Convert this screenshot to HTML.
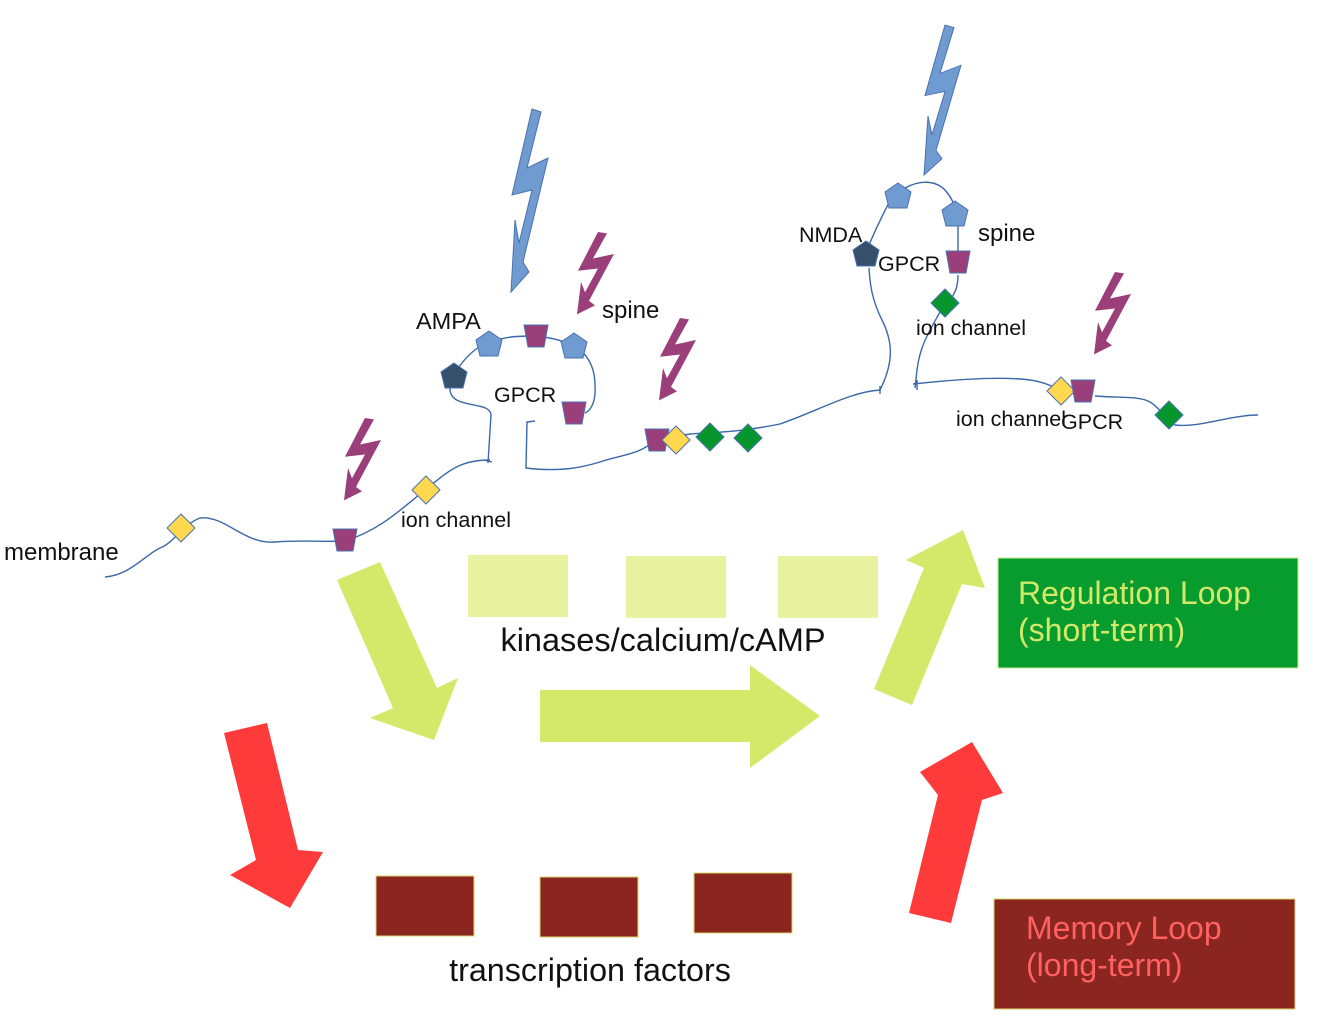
<!DOCTYPE html>
<html><head><meta charset="utf-8"><style>
html,body{margin:0;padding:0;background:#fff;}
svg{display:block;}
text{font-family:"Liberation Sans",sans-serif;}
</style></head><body>
<svg width="1321" height="1021" viewBox="0 0 1321 1021" xmlns="http://www.w3.org/2000/svg">
<defs>
<polygon id="bolt" points="23,0 32,3 18,59 39,49 14,153 20,163 2,183 6,111 10,134 23,81 3,86"/>
<polygon id="pent" points="0,-13 13,-4 9,12 -9,12 -13,-4"/>
<polygon id="trap" points="-12,-11 12,-11 8,11 -8,11"/>
<polygon id="dia" points="0,-14 14,0 0,14 -14,0"/>
</defs>
<g fill="none" stroke="#3b68a8" stroke-width="1.4">
<path d="M105,577 C130,575 145,555 160,548 C175,542 182,525 200,518 C225,515 245,545 275,542 C300,540 320,542 345,541"/>
<path d="M345,541 C380,530 400,510 425,490 C450,470 460,460 490,460"/>
<path d="M488,463 L491,415 C490,400 452,410 450,390 L452,376"/>
<path d="M454,375 C465,355 480,345 488,343 C505,336 520,336 536,336 C555,338 565,342 573,345 C590,355 595,370 595,385 C596,400 592,410 585,413"/>
<path d="M535,421 L527,422 L526,468 C560,472 580,468 600,462 C620,455 640,455 655,440"/>
<path d="M655,440 L690,434 C720,432 740,432 780,424 C820,410 850,392 880,390"/>
<path d="M880,390 C895,360 892,340 882,320 C872,300 870,285 869,268 M867,250 C875,230 885,210 893,195 M905,188 C920,180 935,180 945,190 C952,198 955,206 956,212 M958,225 L958,252 M958,275 C958,285 956,292 950,300 M940,312 C930,330 920,345 917,370 L915,388"/>
<path d="M913,384 C950,380 1000,376 1030,380 C1045,382 1055,388 1065,391 M1095,396 C1120,398 1140,396 1150,402 C1160,408 1165,418 1175,425 C1200,428 1230,415 1258,415"/>
<path d="M484,460 L492,462 M880,386 L880,394 M917,380 L917,390"/>
</g>
<g stroke="#4a72b0" stroke-width="1">
<use href="#pent" x="489" y="344" fill="#6f9bd0"/>
<use href="#pent" x="574" y="346" fill="#6f9bd0"/>
<use href="#pent" x="454" y="376" fill="#36506b"/>
<use href="#trap" x="536" y="336" fill="#9b3f7a"/>
<use href="#trap" x="574" y="413" fill="#9b3f7a"/>
<use href="#trap" x="345" y="540" fill="#9b3f7a"/>
<use href="#trap" x="657" y="440" fill="#9b3f7a"/>
<use href="#dia" x="181" y="528" fill="#ffd850"/>
<use href="#dia" x="426" y="490" fill="#ffd850"/>
<use href="#dia" x="676" y="440" fill="#ffd850"/>
<use href="#dia" x="710" y="437" fill="#07962e"/>
<use href="#dia" x="748" y="438" fill="#07962e"/>
<use href="#pent" x="898" y="196" fill="#6f9bd0"/>
<use href="#pent" x="955" y="214" fill="#6f9bd0"/>
<use href="#pent" x="866" y="254" fill="#36506b"/>
<use href="#trap" x="958" y="262" fill="#9b3f7a"/>
<use href="#dia" x="945" y="303" fill="#07962e"/>
<use href="#dia" x="1061" y="391" fill="#ffd850"/>
<use href="#trap" x="1083" y="391" fill="#9b3f7a"/>
<use href="#dia" x="1169" y="415" fill="#07962e"/>
</g>
<use href="#bolt" transform="translate(509,109)" fill="#6f9bd0" stroke="#4a72b0"/>
<use href="#bolt" transform="translate(922,25) scale(1,0.82)" fill="#6f9bd0" stroke="#4a72b0"/>
<g fill="#9b3f7a">
<use href="#bolt" transform="translate(342,418) scale(1,0.45)"/>
<use href="#bolt" transform="translate(575,232) scale(1,0.45)"/>
<use href="#bolt" transform="translate(657,318) scale(1,0.45)"/>
<use href="#bolt" transform="translate(1092,272) scale(1,0.45)"/>
</g>
<g fill="#111" font-size="21.5">
<text x="4" y="560" font-size="24">membrane</text>
<text x="416" y="329" font-size="23.5">AMPA</text>
<text x="602" y="318" font-size="24">spine</text>
<text x="494" y="402">GPCR</text>
<text x="401" y="527">ion channel</text>
<text x="799" y="242">NMDA</text>
<text x="878" y="271">GPCR</text>
<text x="978" y="241" font-size="24">spine</text>
<text x="916" y="335">ion channel</text>
<text x="956" y="426">ion channel</text>
<text x="1061" y="429">GPCR</text>
</g>
<g fill="#e8f2a0">
<rect x="468" y="555" width="100" height="62"/>
<rect x="626" y="556" width="100" height="62"/>
<rect x="778" y="556" width="100" height="62"/>
</g>
<text x="663" y="651" font-size="32.5" text-anchor="middle" fill="#111">kinases/calcium/cAMP</text>
<g fill="#d4e86a">
<polygon points="337,580 380,562 437,688 458,678 434,740 370,718 393,708"/>
<polygon points="540,690 750,690 750,665 820,716 750,768 750,742 540,742"/>
<polygon points="874,689 924,568 906,560 963,530 985,588 962,584 912,705"/>
</g>
<g fill="#ff3a3a">
<polygon points="224,733 267,723 298,850 323,852 290,908 230,875 256,860"/>
<polygon points="909,913 938,795 920,772 972,742 1003,793 982,800 951,923"/>
</g>
<g fill="#8b2520" stroke="#d9d36a" stroke-width="1">
<rect x="376" y="876" width="98" height="60"/>
<rect x="540" y="877" width="98" height="60"/>
<rect x="694" y="873" width="98" height="60"/>
</g>
<text x="590" y="981" font-size="32.3" text-anchor="middle" fill="#111">transcription factors</text>
<rect x="998" y="558" width="300" height="110" fill="#089b2e" stroke="#c8e890"/>
<text x="1018" y="604" font-size="32" fill="#d4e86a">Regulation Loop</text>
<text x="1018" y="641" font-size="32" fill="#d4e86a">(short-term)</text>
<rect x="994" y="899" width="301" height="110" fill="#8b2520" stroke="#d9d36a"/>
<text x="1026" y="939" font-size="32" fill="#ff6060">Memory Loop</text>
<text x="1026" y="976" font-size="32" fill="#ff6060">(long-term)</text>
</svg>
</body></html>
